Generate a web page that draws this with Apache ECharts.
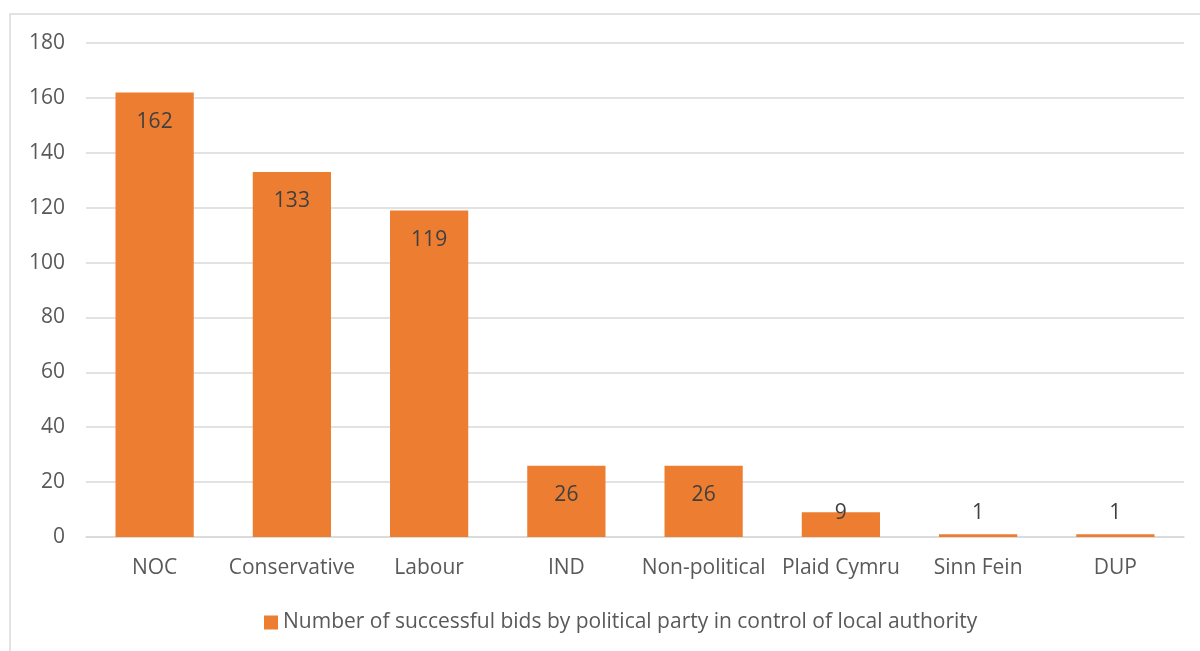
<!DOCTYPE html>
<html><head><meta charset="utf-8">
<script src="https://cdn.jsdelivr.net/npm/echarts@6/dist/echarts.min.js"></script>
<style>html,body{margin:0;padding:0;background:#fff}#c{width:1200px;height:651px}</style>
</head><body><div id="c"></div>
<script>
const categories = ['NOC','Conservative','Labour','IND','Non-political','Plaid Cymru','Sinn Fein','DUP'];
const values = [162,133,119,26,26,9,1,1];
const seriesName = 'Number of successful bids by political party in control of local authority';
const FONT = 'Open Sans';
const chart = echarts.init(document.getElementById('c'));
const data = values.map(v => ({
  value: v,
  label: v >= 20 ? {position:'insideTop', distance: 19} : {position:'insideBottom', distance: 13}
}));
chart.setOption({
  animation:false,
  graphic:[{type:'rect',shape:{x:10,y:14,width:1200,height:700},style:{fill:'none',stroke:'#d9d9d9',lineWidth:1.5},silent:true}],
  grid:{left:86,right:16,top:43,bottom:114},
  legend:{bottom:13,left:259,itemWidth:14,itemHeight:14,itemGap:6,icon:'rect',
    textStyle:{fontFamily:FONT,fontSize:21,color:'#595959'},data:[seriesName]},
  xAxis:{type:'category',data:categories,
    axisLine:{lineStyle:{color:'#d9d9d9',width:1.5}},axisTick:{show:false},
    axisLabel:{fontFamily:FONT,fontSize:21,color:'#595959',margin:21,interval:0}},
  yAxis:{type:'value',min:0,max:180,interval:20,
    axisLine:{show:false},axisTick:{show:false},
    splitLine:{lineStyle:{color:'#d9d9d9',width:1.5}},
    axisLabel:{fontFamily:FONT,fontSize:21,color:'#595959',margin:21}},
  series:[{name:seriesName,type:'bar',data:data,barWidth:'57%',
    itemStyle:{color:'#ED7D31'},
    label:{show:true,fontFamily:FONT,fontSize:21,color:'#404040'}}]
});
</script></body></html>
